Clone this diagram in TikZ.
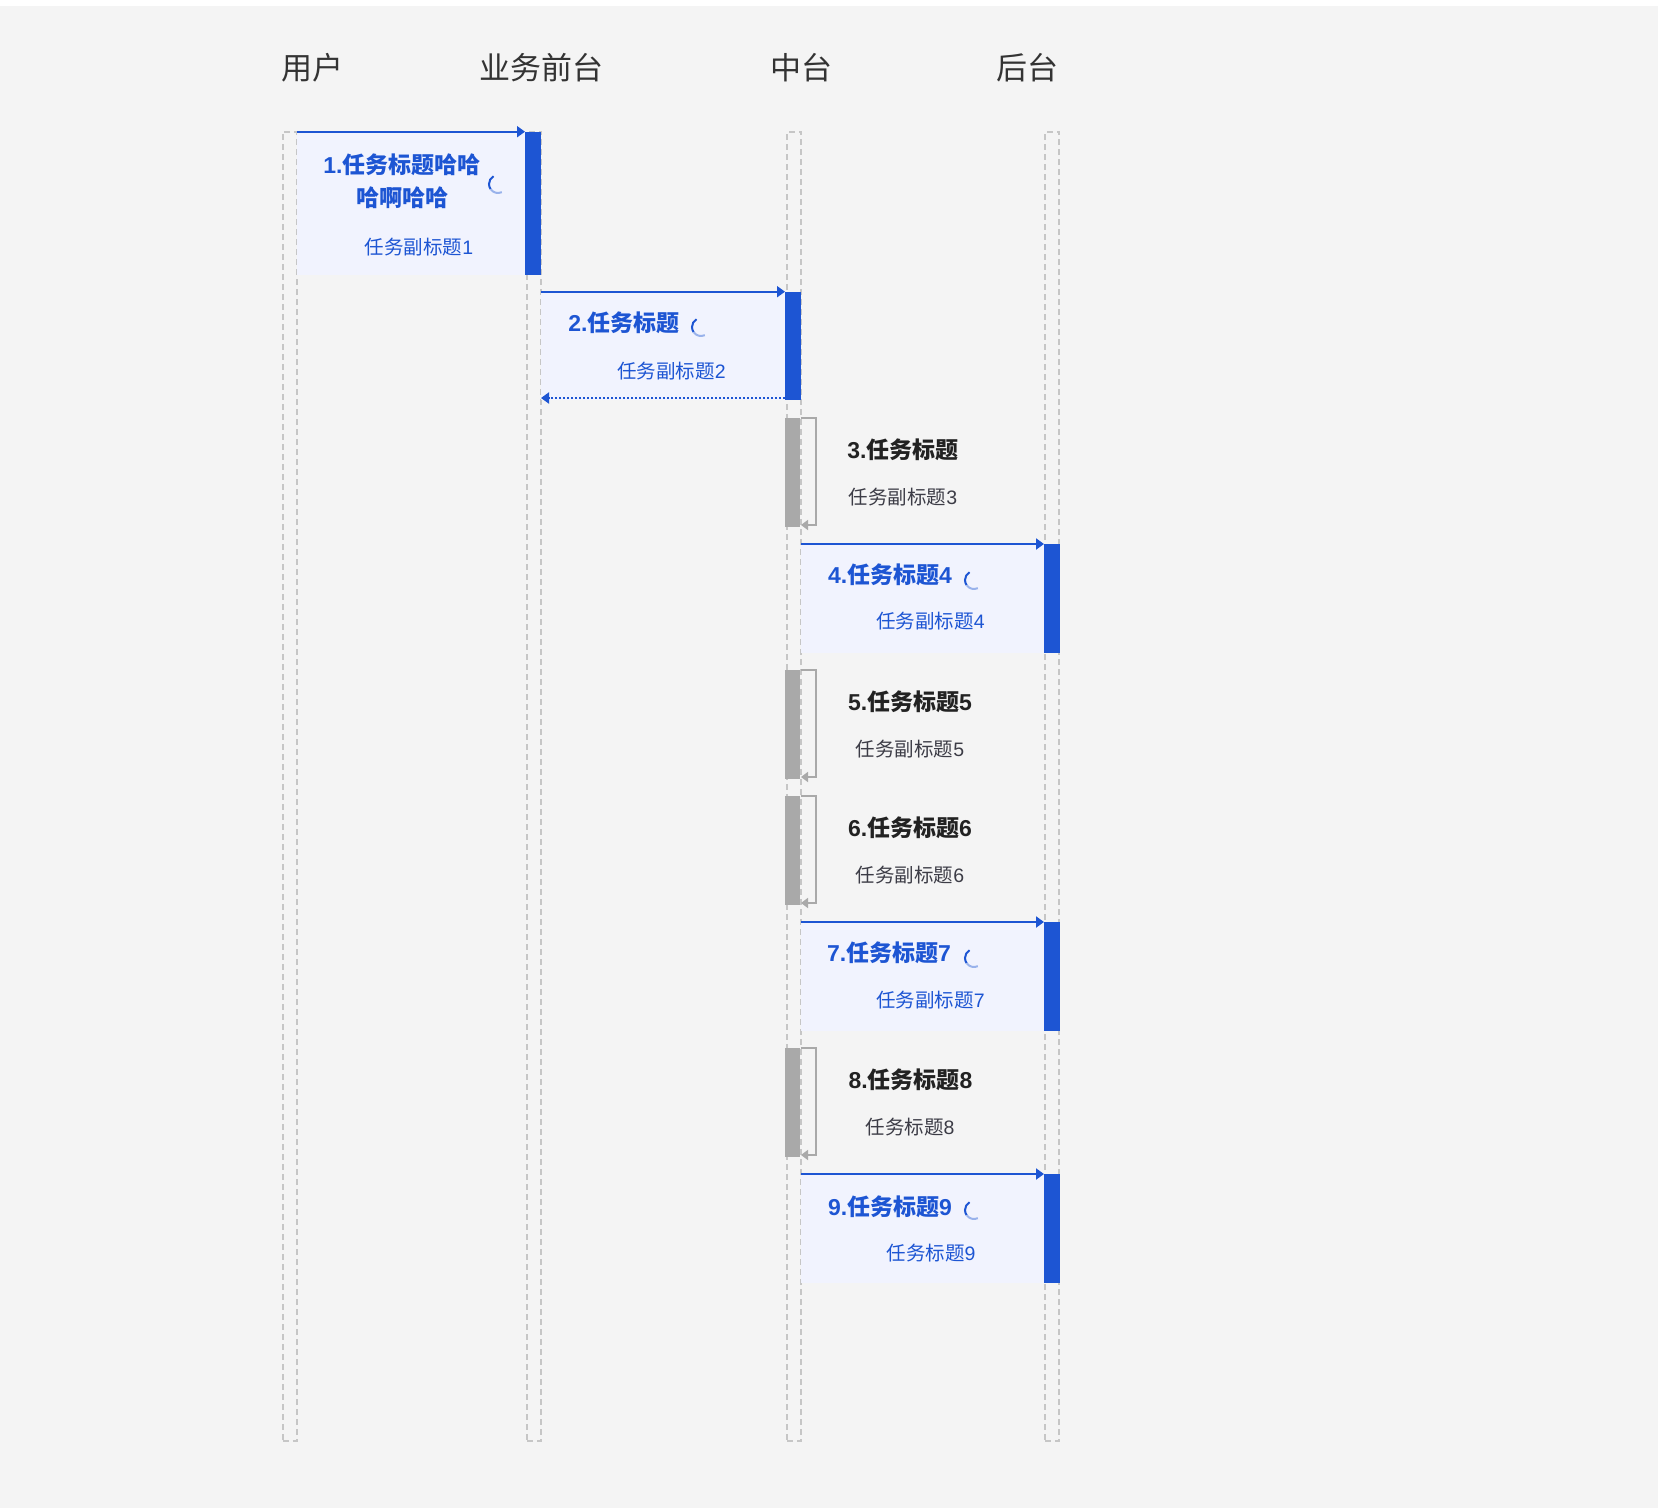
\documentclass[tikz,border=0pt]{standalone}
\usepackage{fontspec}
\setmainfont{Noto Sans CJK SC}
\newfontfamily\latf{Liberation Sans}
\usetikzlibrary{arrows.meta}
\definecolor{bgc}{HTML}{F4F4F4}
\definecolor{blu}{HTML}{1D55D3}
\definecolor{lbl}{HTML}{F1F3FE}
\definecolor{gbarc}{HTML}{A9A9A9}
\definecolor{lline}{HTML}{C6C6C6}
\definecolor{tdark}{HTML}{222222}
\definecolor{tsub}{HTML}{3C3C46}
\definecolor{thead}{HTML}{333333}
\tikzset{
  lifeline/.style={draw=lline, line width=2pt, dash pattern=on 6pt off 4pt,
    minimum width=14pt, minimum height=1309.5pt, anchor=north west, inner sep=0pt, outer sep=0pt},
  bluebar/.style={fill=blu, minimum width=16pt, anchor=north west, inner sep=0pt, outer sep=0pt},
  graybar/.style={fill=gbarc, minimum width=15pt, minimum height=109pt, anchor=north west, inner sep=0pt, outer sep=0pt},
  msgbox/.style={fill=lbl, anchor=north west, inner sep=0pt, outer sep=0pt},
  msg/.style={draw=blu, line width=2pt, -{Triangle[length=8pt,width=11pt]}},
  retmsg/.style={draw=blu, line width=2pt, dash pattern=on 2pt off 2pt, -{Triangle[length=8pt,width=11pt]}},
  selfloop/.style={draw=gbarc, line width=1.6pt, -{Triangle[length=7pt,width=10pt]}},
  head/.style={font=\fontsize{31}{36}\selectfont, text=thead, inner sep=0pt},
  btitle/.style={font=\fontsize{23}{33}\selectfont\bfseries, text=blu, inner sep=0pt, align=center},
  ktitle/.style={font=\fontsize{23}{33}\selectfont\bfseries, text=tdark, inner sep=0pt},
  bsub/.style={font=\fontsize{19.5}{24}\selectfont, text=blu, inner sep=0pt},
  ksub/.style={font=\fontsize{19.5}{24}\selectfont, text=tsub, inner sep=0pt},
  spinA/.style={draw=blu, line width=2pt},
  spinB/.style={draw=blu!45, line width=2pt},
}
\newcommand{\spinner}[2]{%
  \draw[spinA] (#1,#2) ++(-120:9) arc[start angle=-120, end angle=-215, radius=9];
  \draw[spinB] (#1,#2) ++(-215:9) arc[start angle=-215, end angle=-295, radius=9];
}
\newcommand{\lt}[1]{{\latf #1}}
\begin{document}
\begin{tikzpicture}[x=1pt,y=-1pt]
\useasboundingbox (0,0) rectangle (1658,1508);
\fill[white] (0,0) rectangle (1658,1508);
\fill[bgc] (0,6) rectangle (1658,1508);

% headers
\node[head] (h1) at (312,68) {用户};
\node[head] (h2) at (541,68) {业务前台};
\node[head] (h3) at (801.5,68) {中台};
\node[head] (h4) at (1027.5,68) {后台};

% lifelines
\node[lifeline] (L1) at (282.7,131.7) {};
\node[lifeline] (L2) at (527,131.7) {};
\node[lifeline] (L3) at (787,131.7) {};
\node[lifeline] (L4) at (1045,131.7) {};

% gray activation bars
\node[graybar] (g3) at (785,418) {};
\node[graybar] (g5) at (785,670) {};
\node[graybar] (g6) at (785,796) {};
\node[graybar] (g8) at (785,1048) {};

% step 1
\node[msgbox, minimum width=228pt, minimum height=143.3pt] (box1) at (297,131.7) {};
\node[bluebar, minimum height=143.3pt] (bar1) at (525,131.7) {};
\draw[msg] (box1.north west) -- (bar1.north west);
\node[btitle] (t1) at (402,181.5) {\lt{1.}任务标题哈哈\\哈啊哈哈};
\node[bsub] (s1) at (419,247) {任务副标题\lt{1}};
\spinner{498}{184}

% step 2
\node[msgbox, minimum width=244pt, minimum height=108.3pt] (box2) at (541,291.7) {};
\node[bluebar, minimum height=108.3pt] (bar2) at (785,291.7) {};
\draw[msg] (box2.north west) -- (bar2.north west);
\draw[retmsg] ([yshift=2pt]bar2.south west) -- ([yshift=2pt]box2.south west);
\node[btitle] (t2) at (624,323) {\lt{2.}任务标题};
\node[bsub] (s2) at (671.5,371) {任务副标题\lt{2}};
\spinner{701}{327}

% step 3
\draw[selfloop] ([xshift=1pt]g3.north east) -- ++(15,0) |- ([xshift=1pt,yshift=2pt]g3.south east);
\node[ktitle] (t3) at (903,450) {\lt{3.}任务标题};
\node[ksub] (s3) at (903,497) {任务副标题\lt{3}};

% step 4
\node[msgbox, minimum width=243pt, minimum height=109pt] (box4) at (801,544) {};
\node[bluebar, minimum height=109pt] (bar4) at (1044,544) {};
\draw[msg] (box4.north west) -- (bar4.north west);
\node[btitle] (t4) at (890,575) {\lt{4.}任务标题\lt{4}};
\node[bsub] (s4) at (930.5,621) {任务副标题\lt{4}};
\spinner{974}{580}

% step 5
\draw[selfloop] ([xshift=1pt]g5.north east) -- ++(15,0) |- ([xshift=1pt,yshift=2pt]g5.south east);
\node[ktitle] (t5) at (910,702) {\lt{5.}任务标题\lt{5}};
\node[ksub] (s5) at (910,749) {任务副标题\lt{5}};

% step 6
\draw[selfloop] ([xshift=1pt]g6.north east) -- ++(15,0) |- ([xshift=1pt,yshift=2pt]g6.south east);
\node[ktitle] (t6) at (910,828) {\lt{6.}任务标题\lt{6}};
\node[ksub] (s6) at (910,875) {任务副标题\lt{6}};

% step 7
\node[msgbox, minimum width=243pt, minimum height=109pt] (box7) at (801,922) {};
\node[bluebar, minimum height=109pt] (bar7) at (1044,922) {};
\draw[msg] (box7.north west) -- (bar7.north west);
\node[btitle] (t7) at (889,953) {\lt{7.}任务标题\lt{7}};
\node[bsub] (s7) at (930.5,1000) {任务副标题\lt{7}};
\spinner{974}{958}

% step 8
\draw[selfloop] ([xshift=1pt]g8.north east) -- ++(15,0) |- ([xshift=1pt,yshift=2pt]g8.south east);
\node[ktitle] (t8) at (910.5,1080) {\lt{8.}任务标题\lt{8}};
\node[ksub] (s8) at (910,1127) {任务标题\lt{8}};

% step 9
\node[msgbox, minimum width=243pt, minimum height=109pt] (box9) at (801,1174) {};
\node[bluebar, minimum height=109pt] (bar9) at (1044,1174) {};
\draw[msg] (box9.north west) -- (bar9.north west);
\node[btitle] (t9) at (890,1207) {\lt{9.}任务标题\lt{9}};
\node[bsub] (s9) at (931,1253) {任务标题\lt{9}};
\spinner{974}{1210}
\end{tikzpicture}
\end{document}
